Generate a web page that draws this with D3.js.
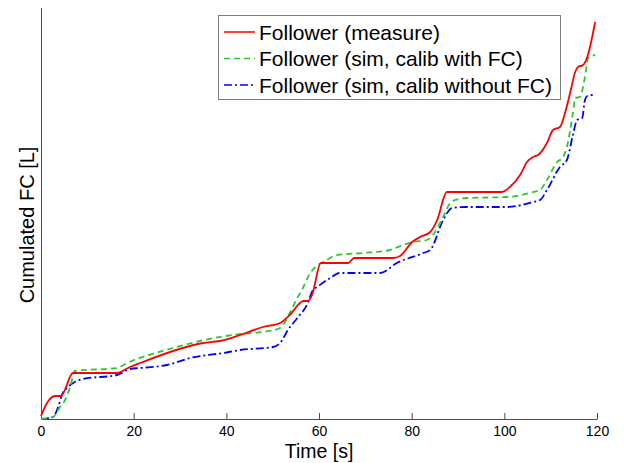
<!DOCTYPE html>
<html>
<head>
<meta charset="utf-8">
<script src="https://cdn.jsdelivr.net/npm/d3@7"></script>
<style>
body { margin: 0; background: #fff; }
svg { font-family: "Liberation Sans", Arial, sans-serif; }
.axis path, .axis line { stroke: #4d4d4d; }
.axis text { fill: #000; font-size: 14px; }
</style>
</head>
<body>
<svg id="chart" width="624" height="463"></svg>
<script>
// time [s] / cumulated FC [L]
const measT = [0, 1.3, 3.0, 4.3, 6.9, 16.4, 19.2, 21.4, 35, 38.6, 43, 47.9, 51.6, 53.7, 55.9, 56.6, 57.6, 58.5, 60.4, 66.3, 67.6, 76, 77.5, 80.1, 81.8, 84, 85.5, 87.6, 99.5, 101.2, 103.4, 104.9, 106.2, 107.3, 109.2, 110.5, 112, 113.1, 114.2, 115.3, 115.9, 117, 117.9, 119.6];
const measV = [0.003, 0.016, 0.023, 0.023, 0.046, 0.046, 0.052, 0.056, 0.076, 0.078, 0.084, 0.092, 0.096, 0.104, 0.116, 0.118, 0.118, 0.124, 0.156, 0.156, 0.161, 0.161, 0.163, 0.177, 0.182, 0.187, 0.199, 0.227, 0.227, 0.232, 0.244, 0.257, 0.262, 0.264, 0.276, 0.289, 0.292, 0.306, 0.326, 0.347, 0.352, 0.354, 0.362, 0.397];

const simFcT = [0, 2.6, 4.1, 5.2, 6.3, 7.3, 16.4, 18.6, 28.5, 34.3, 43, 47.9, 51.6, 53.7, 55.3, 56.3, 58.1, 59.8, 61.3, 63.9, 69.5, 75.3, 78.1, 80.3, 83.3, 84.6, 86.8, 88.3, 89.4, 91.9, 100.6, 106.2, 107.7, 109.2, 111.4, 112.7, 113.5, 114.8, 115.3, 116.3, 117.4, 118.1, 119.6];
const simFcV = [0, 0.002, 0.012, 0.019, 0.032, 0.048, 0.051, 0.056, 0.071, 0.078, 0.085, 0.087, 0.091, 0.106, 0.121, 0.129, 0.146, 0.154, 0.158, 0.164, 0.166, 0.169, 0.174, 0.177, 0.179, 0.184, 0.202, 0.216, 0.219, 0.221, 0.222, 0.227, 0.229, 0.239, 0.257, 0.262, 0.272, 0.306, 0.321, 0.322, 0.342, 0.361, 0.364];

const simNoT = [0, 2.6, 3.7, 4.5, 5.8, 7.3, 9.1, 16.4, 19.2, 21.4, 27.2, 32.2, 39.3, 43, 50.1, 51.6, 53.3, 55.5, 57.4, 58.7, 59.6, 62.4, 64.5, 73.2, 76.8, 82.5, 84, 86.8, 88.7, 91.9, 100.6, 106.2, 107.7, 109.2, 112, 113.5, 114.8, 115.7, 116.8, 117.4, 117.9, 119.1];
const simNoV = [0, 0.002, 0.012, 0.024, 0.032, 0.037, 0.040, 0.044, 0.050, 0.051, 0.054, 0.061, 0.066, 0.069, 0.072, 0.076, 0.089, 0.102, 0.114, 0.129, 0.132, 0.141, 0.146, 0.146, 0.156, 0.166, 0.169, 0.199, 0.211, 0.212, 0.212, 0.217, 0.219, 0.229, 0.252, 0.259, 0.284, 0.299, 0.301, 0.319, 0.323, 0.324];

const xTicks = [0, 20, 40, 60, 80, 100, 120];
const legendNames = ["Follower (measure)", "Follower (sim, calib with FC)", "Follower (sim, calib without FC)"];

const svg = d3.select("#chart");

const x = d3.scaleLinear().domain([0, 120]).range([41, 597]);
const y = d3.scaleLinear().domain([0, 0.411]).range([419, 8]);

svg.append("g").attr("class", "axis")
  .attr("transform", "translate(0,419)")
  .call(d3.axisBottom(x).tickValues(xTicks).tickSizeInner(-6).tickSizeOuter(0).tickPadding(7))
  .call(g => g.select(".domain").attr("d", "M41.5,0.5H597.5"));

svg.append("line")
  .attr("x1", 41.5).attr("x2", 41.5)
  .attr("y1", 8).attr("y2", 419)
  .attr("stroke", "#4d4d4d");

const series = [
  { t: measT, v: measV, color: "#ff0000", dash: null },
  { t: simFcT, v: simFcV, color: "#2ec82e", dash: "6,4" },
  { t: simNoT, v: simNoV, color: "#0000ff", dash: "8,3,2,3" }
];

const line = d3.line()
  .x(d => x(d[0]))
  .y(d => y(d[1]))
  .curve(d3.curveMonotoneX);

series.slice().reverse().forEach(s => {
  svg.append("path")
    .datum(s.t.map((t, i) => [t, s.v[i]]))
    .attr("fill", "none")
    .attr("stroke", s.color)
    .attr("stroke-width", 1.8)
    .attr("stroke-dasharray", s.dash)
    .attr("d", line);
});

// axis labels
svg.append("text")
  .attr("x", 319).attr("y", 458)
  .attr("text-anchor", "middle")
  .attr("font-size", 19.5)
  .text("Time [s]");

svg.append("text")
  .attr("transform", "translate(34,225) rotate(-90)")
  .attr("text-anchor", "middle")
  .attr("font-size", 20)
  .text("Cumulated FC [L]");

// legend
const leg = svg.append("g");
leg.append("rect")
  .attr("x", 218.5).attr("y", 15.5)
  .attr("width", 342).attr("height", 84)
  .attr("fill", "#fff")
  .attr("stroke", "#7f7f7f");

series.forEach((s, i) => {
  const cy = 32 + i * 26.5;
  leg.append("line")
    .attr("x1", 224).attr("x2", 255)
    .attr("y1", cy).attr("y2", cy)
    .attr("stroke", s.color)
    .attr("stroke-width", 1.5)
    .attr("stroke-dasharray", s.dash);
  leg.append("text")
    .attr("x", 259).attr("y", cy + 7.5)
    .attr("font-size", 21)
    .text(legendNames[i]);
});
</script>
</body>
</html>
